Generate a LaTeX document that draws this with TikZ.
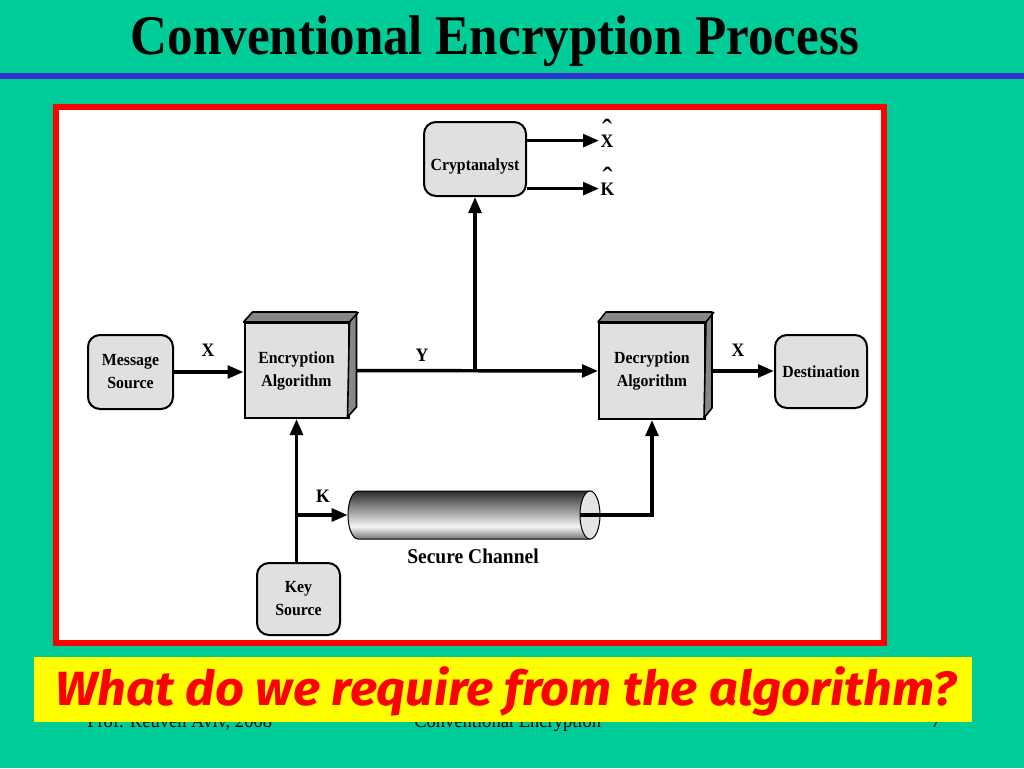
\documentclass[tikz,border=0pt]{standalone}
\usepackage{fontspec}
\setmainfont{Liberation Serif}
\newfontfamily\diafont[FakeStretch=0.93]{Liberation Serif}
\newfontfamily\askfont{Fira Sans}
\usetikzlibrary{arrows.meta}
\definecolor{bgteal}{RGB}{0,204,153}
\definecolor{barblue}{RGB}{51,51,204}
\definecolor{boxgray}{RGB}{224,224,224}
\definecolor{sidegray}{RGB}{135,135,135}
\definecolor{capgray}{RGB}{228,228,228}
\definecolor{askred}{RGB}{255,0,0}
\definecolor{askyellow}{RGB}{255,255,0}
\definecolor{framered}{RGB}{255,0,0}
\pgfdeclareverticalshading{pipeshade}{100bp}{color(0bp)=(black!55); color(25bp)=(black!55); color(38bp)=(black!4); color(75bp)=(black!82); color(100bp)=(black!82)}
\newcommand\hatted[1]{\ooalign{#1\cr\hidewidth\raisebox{4.5pt}{\mdseries\fontsize{24pt}{24pt}\selectfont\char"02C6}\hidewidth\cr}}
\begin{document}
\begin{tikzpicture}[x=0.75pt,y=-0.75pt,
  box/.style={draw=black,line width=1.5pt,fill=boxgray,inner sep=0pt,align=center,
    font=\diafont\bfseries\fontsize{12.75pt}{17.25pt}\selectfont},
  rbox/.style={box,rounded corners=9pt},
  sqbox/.style={box},
  face/.style={draw=black,line width=1.2pt,fill=sidegray,line join=round},
  flow/.style={line width=2.6pt,-{Triangle[length=12pt,width=9.5pt]}},
  sig/.style={font=\diafont\bfseries\fontsize{14.25pt}{17pt}\selectfont,inner sep=0pt},
  foot/.style={font=\fontsize{13.9pt}{15pt}\selectfont,inner sep=0pt,anchor=base west},
]
% background
\fill[bgteal] (0,0) rectangle (1024,768);
\useasboundingbox (0,0) rectangle (1024,768);
\fill[barblue] (0,73) rectangle (1024,79);
\node[anchor=base,inner sep=0pt,font=\bfseries\fontsize{42pt}{46pt}\selectfont] (title) at (495,54)
  {\resizebox{546pt}{\height}{Conventional Encryption Process}};
% frame
\draw[framered,line width=4.5pt,fill=white] (56,107) rectangle (884,643);

% boxes
\node[rbox,minimum width=76.5pt,minimum height=55.5pt] (crypt) at (475,159) {\raisebox{-8.5pt}[0pt][0pt]{Cryptanalyst}};
\node[rbox,minimum width=63.75pt,minimum height=55.5pt] (msg) at (130.5,372) {Message\\Source};
\node[sqbox,minimum width=78pt,minimum height=71.25pt] (enc) at (296.5,370.5) {Encryption\\Algorithm};
\node[sqbox,minimum width=79.5pt,minimum height=72pt] (dec) at (652,371) {Decryption\\Algorithm};
\node[rbox,minimum width=69pt,minimum height=54.75pt] (dest) at (821,371.5) {Destination};
\node[rbox,minimum width=62.25pt,minimum height=54pt] (key) at (298.5,599) {Key\\Source};

% secure channel
\node[minimum width=189pt,minimum height=36pt,inner sep=0pt] (chan) at (474,515) {};
\shade[shading=pipeshade,draw=black,line width=0.75pt]
  (590,491) -- (358,491) arc[start angle=90,end angle=270,x radius=7.5pt,y radius=18pt] -- (590,539) -- cycle;
\draw[fill=capgray,line width=0.75pt] (590,515) ellipse[x radius=7.5pt,y radius=18pt];
\node[font=\diafont\bfseries\fontsize{15.75pt}{18pt}\selectfont,inner sep=0pt] (sclabel) at (473,556) {Secure Channel};

% connectors
\coordinate (yj) at (enc.east -| crypt.south);
\draw[flow] (enc.east) -- (dec.west);
\draw[flow] (yj) -- (crypt.south);
\draw[flow] (msg.east) -- (msg.east -| enc.west);
\draw[flow] (dec.east) -- (dec.east -| dest.west);
\draw[flow] (enc.south |- key.north) -- (enc.south);
\coordinate (kj) at (enc.south |- chan.west);
\draw[flow] (kj) -- (chan.west);
\coordinate (chanE) at (580,515);
\draw[flow] (chanE) -| (dec.south);

% outputs of cryptanalyst
\node[sig,anchor=base west,inner sep=1pt] (xhat) at (599,147) {\hatted{X}};
\node[sig,anchor=base west,inner sep=1pt] (khat) at (599,195) {\hatted{K}};
\draw[flow] ([yshift=2.5pt]crypt.east |- xhat.mid west) -- ([yshift=2.5pt]xhat.mid west);
\draw[flow] ([yshift=2.5pt]crypt.east |- khat.mid west) -- ([yshift=2.5pt]khat.mid west);

% signal labels
\node[sig] (lx1) at (208,350) {X};
\node[sig] (ly) at (422,355) {Y};
\node[sig] (lx2) at (738,350) {X};
\node[sig] (lk) at (323,496) {K};

% 3D faces
\filldraw[face] (enc.north west) -- ++(9,-10) -- ++(104,0) -- ++(0,95) -- ++(-9,10) -- (enc.north east) -- cycle;
\draw[face] (enc.north east) -- ++(9,-10);
\filldraw[face] (dec.north west) -- ++(8,-10) -- ++(106,0) -- ++(0,96) -- ++(-8,10) -- (dec.north east) -- cycle;
\draw[face] (dec.north east) -- ++(8,-10);

% footer (mostly hidden behind the yellow band)
\begin{scope}
\clip (0,722) rectangle (1024,768);
\node[foot] (foot1) at (87,727) {Prof. Reuven Aviv, 2008};
\node[foot] (foot2) at (414,727) {Conventional Encryption};
\node[foot] (foot3) at (931,727) {7};
\end{scope}

% question
\fill[askyellow] (34,657) rectangle (972,722);
\node[anchor=base,inner sep=0pt,text=askred,font=\askfont\bfseries\itshape\fontsize{36pt}{40pt}\selectfont] (ask) at (506,705)
  {\resizebox{676pt}{\height}{What do we require from the algorithm?}};
\end{tikzpicture}
\end{document}
